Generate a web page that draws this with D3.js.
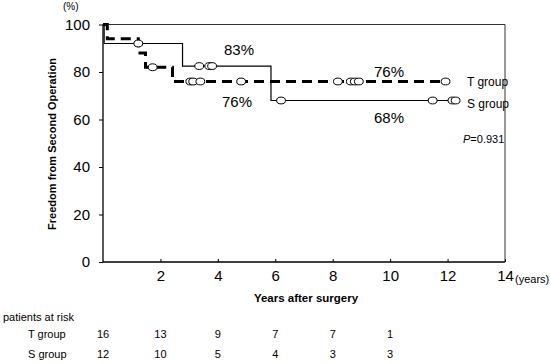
<!DOCTYPE html>
<html><head><meta charset="utf-8">
<script src="https://cdn.jsdelivr.net/npm/d3@7"></script>
<style>body{margin:0;background:#fff}svg{font-family:"Liberation Sans",Arial,sans-serif}</style>
</head><body>
<svg id="c" width="550" height="364"></svg>
<script>
// T group (dashed) Kaplan-Meier steps [years, %]
const tSteps = [[0,100],[0.15,94],[1.23,88],[1.48,82],[2.42,76],[11.93,76]];
const tCensor = [[1.73,82],[3.04,76],[3.14,76],[3.39,76],[4.81,76],[8.18,76],[8.63,76],[8.77,76],[8.91,76],[11.93,76]];
// S group (solid)
const sSteps = [[0,100],[0.04,92],[2.77,82.5],[5.85,68],[12.28,68]];
const sCensor = [[1.23,92],[3.35,82.5],[3.7,82.5],[3.8,82.5],[6.2,68],[11.48,68],[12.17,68],[12.28,68]];
const xTicks = [2,4,6,8,10,12,14];
const yTicks = [0,20,40,60,80,100];
const riskTimes = [0,2,4,6,8,10];
const riskT = [16,13,9,7,7,1];
const riskS = [12,10,5,4,3,3];

const svg = d3.select("#c");
const x = d3.scaleLinear().domain([0,14]).range([103,505]);
const y = d3.scaleLinear().domain([0,100]).range([262,24.5]);

// frame (top & right)
svg.append("path").attr("d",`M${x(0)},${y(100)}H${x(14)}V${y(0)}`).attr("fill","none").attr("stroke","#333").attr("stroke-width",1);

// axes
const xa = svg.append("g").attr("transform",`translate(0,${y(0)})`)
  .call(d3.axisBottom(x).tickValues(xTicks).tickSize(-3).tickPadding(8).tickFormat(d3.format("d")));
const ya = svg.append("g").attr("transform",`translate(${x(0)},0)`)
  .call(d3.axisLeft(y).tickValues(yTicks).tickSize(4).tickPadding(9));
[xa,ya].forEach(g=>{
  g.select(".domain").attr("stroke","#000").attr("stroke-width",1.3);
  g.selectAll(".tick line").attr("stroke","#000");
  g.selectAll("text").attr("font-size",15).attr("fill","#000").attr("font-family","Liberation Sans, Arial, sans-serif");
});
xa.select(".domain").attr("d",`M${x(0)},0H${x(14)}`);
ya.select(".domain").attr("d",`M0,${y(0)}V${y(100)}`);

const line = d3.line().x(d=>x(d[0])).y(d=>y(d[1])).curve(d3.curveStepAfter);
svg.append("path").datum(sSteps).attr("d",line).attr("fill","none").attr("stroke","#000").attr("stroke-width",1.2);
svg.append("path").datum(tSteps).attr("d",line).attr("fill","none").attr("stroke","#000").attr("stroke-width",3).attr("stroke-dasharray","10,6");

function censor(data){
  svg.append("g").selectAll("ellipse").data(data).join("ellipse")
    .attr("cx",d=>x(d[0])).attr("cy",d=>y(d[1])).attr("rx",4.4).attr("ry",3.4)
    .attr("fill","#fff").attr("stroke","#000").attr("stroke-width",1);
}
censor(sCensor); censor(tCensor);

function txt(s,xx,yy,size,opt={}){
  const t = svg.append("text").attr("x",xx).attr("y",yy).attr("font-size",size).attr("fill","#000").text(s);
  if(opt.anchor) t.attr("text-anchor",opt.anchor);
  if(opt.weight) t.attr("font-weight",opt.weight);
  return t;
}
txt("83%",239,55,15,{anchor:"middle"});
txt("76%",237,107,15,{anchor:"middle"});
txt("76%",389,77,15,{anchor:"middle"});
txt("68%",389,123,15,{anchor:"middle"});
txt("T group",467,86,12);
txt("S group",467,108,12);
const p = svg.append("text").attr("x",463).attr("y",143).attr("font-size",11).attr("fill","#000");
p.append("tspan").attr("font-style","italic").text("P");
p.append("tspan").text("=0.931");

txt("(%)",63,10,10);
txt("(years)",515,283,11);
txt("Years after surgery",306,302,11.5,{anchor:"middle",weight:"bold"});
svg.append("text").attr("transform","translate(56,144) rotate(-90)").attr("text-anchor","middle")
  .attr("font-size",11).attr("font-weight","bold").attr("fill","#000").text("Freedom from Second Operation");

txt("patients at risk",3,321,11);
txt("T group",28,338,11);
txt("S group",28,358,11);
svg.append("g").selectAll("text").data(riskT).join("text")
  .attr("x",(d,i)=>x(riskTimes[i])).attr("y",338).attr("text-anchor","middle").attr("font-size",11).text(d=>d);
svg.append("g").selectAll("text").data(riskS).join("text")
  .attr("x",(d,i)=>x(riskTimes[i])).attr("y",358).attr("text-anchor","middle").attr("font-size",11).text(d=>d);
</script>
</body></html>
